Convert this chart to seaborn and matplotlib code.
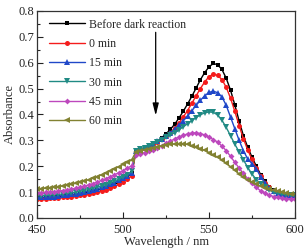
import numpy as np
import pandas as pd
import matplotlib
matplotlib.use("Agg")
import matplotlib.pyplot as plt
import seaborn as sns

# wavelength grid of the spectrometer, 2.5 nm step
wavelength = np.arange(450, 600.1, 2.5)

before = [0.078, 0.078, 0.079, 0.080, 0.081, 0.082, 0.084, 0.086, 0.088, 0.090,
          0.093, 0.096, 0.099, 0.103, 0.107, 0.112, 0.117, 0.123, 0.130, 0.138,
          0.147, 0.158, 0.172,
          0.258, 0.265, 0.272, 0.280, 0.288, 0.298, 0.310, 0.325, 0.342, 0.362,
          0.386, 0.412, 0.440, 0.470, 0.502, 0.534, 0.562, 0.584, 0.597, 0.592,
          0.574, 0.540, 0.494, 0.437, 0.375, 0.318, 0.273, 0.235, 0.200, 0.168,
          0.141, 0.121, 0.107, 0.098, 0.093, 0.090, 0.088, 0.087]
min0 = [0.074, 0.074, 0.075, 0.076, 0.077, 0.078, 0.080, 0.081, 0.083, 0.085,
        0.087, 0.090, 0.093, 0.096, 0.100, 0.104, 0.109, 0.115, 0.122, 0.130,
        0.139, 0.150, 0.163,
        0.255, 0.262, 0.269, 0.276, 0.284, 0.293, 0.304, 0.316, 0.330, 0.347,
        0.367, 0.390, 0.415, 0.443, 0.472, 0.500, 0.526, 0.546, 0.556, 0.551,
        0.535, 0.505, 0.463, 0.412, 0.357, 0.306, 0.263, 0.226, 0.193, 0.163,
        0.137, 0.118, 0.105, 0.097, 0.092, 0.089, 0.087, 0.086]
min15 = [0.080, 0.080, 0.081, 0.082, 0.083, 0.085, 0.087, 0.089, 0.091, 0.094,
         0.097, 0.100, 0.104, 0.108, 0.113, 0.118, 0.124, 0.130, 0.137, 0.145,
         0.153, 0.163, 0.175,
         0.257, 0.264, 0.271, 0.279, 0.287, 0.296, 0.306, 0.317, 0.329, 0.343,
         0.358, 0.375, 0.394, 0.414, 0.435, 0.455, 0.472, 0.485, 0.490, 0.484,
         0.468, 0.435, 0.390, 0.345, 0.300, 0.260, 0.228, 0.210, 0.190, 0.160,
         0.135, 0.117, 0.105, 0.097, 0.092, 0.090, 0.089, 0.088]
min30 = [0.086, 0.086, 0.087, 0.088, 0.089, 0.091, 0.093, 0.095, 0.097, 0.100,
         0.103, 0.106, 0.110, 0.114, 0.119, 0.124, 0.129, 0.135, 0.142, 0.150,
         0.158, 0.168, 0.180,
         0.258, 0.265, 0.272, 0.279, 0.286, 0.294, 0.302, 0.311, 0.320, 0.330,
         0.341, 0.352, 0.364, 0.376, 0.388, 0.399, 0.406, 0.410, 0.408, 0.398,
         0.378, 0.350, 0.318, 0.285, 0.255, 0.225, 0.195, 0.170, 0.148, 0.132,
         0.118, 0.108, 0.100, 0.095, 0.092, 0.090, 0.089, 0.088]
min45 = [0.097, 0.098, 0.099, 0.100, 0.102, 0.104, 0.106, 0.109, 0.112, 0.115,
         0.119, 0.123, 0.128, 0.133, 0.139, 0.145, 0.152, 0.159, 0.167, 0.175,
         0.183, 0.192, 0.202,
         0.245, 0.248, 0.253, 0.258, 0.264, 0.271, 0.279, 0.288, 0.297, 0.305,
         0.313, 0.319, 0.325, 0.328, 0.329, 0.326, 0.321, 0.313, 0.303, 0.293,
         0.278, 0.260, 0.238, 0.215, 0.193, 0.172, 0.152, 0.134, 0.118, 0.105,
         0.095, 0.088, 0.083, 0.080, 0.077, 0.075, 0.074, 0.073]
min60 = [0.112, 0.113, 0.115, 0.117, 0.119, 0.121, 0.124, 0.127, 0.130, 0.134,
         0.138, 0.143, 0.148, 0.154, 0.160, 0.167, 0.174, 0.182, 0.190, 0.198,
         0.207, 0.215, 0.224,
         0.256, 0.259, 0.262, 0.266, 0.270, 0.274, 0.278, 0.281, 0.284, 0.286,
         0.287, 0.286, 0.284, 0.280, 0.275, 0.268, 0.261, 0.253, 0.244, 0.235,
         0.224, 0.211, 0.198, 0.184, 0.170, 0.158, 0.147, 0.138, 0.130, 0.123,
         0.117, 0.112, 0.107, 0.103, 0.099, 0.096, 0.094, 0.092]

labels = ["Before dark reaction", "0 min", "15 min", "30 min", "45 min", "60 min"]
series = [before, min0, min15, min30, min45, min60]
colors = ["#000000", "#f41c1c", "#2048c8", "#208a84", "#bd48bd", "#828232"]
markers = ["s", "o", "^", "v", "D", "<"]
msizes = [3.2, 3.6, 3.8, 3.8, 3.0, 3.8]

sns.set_theme(style="ticks")
plt.rcParams["font.family"] = ["Liberation Serif", "DejaVu Serif"]

fig = plt.figure(figsize=(3.07, 2.48), dpi=100)
ax = fig.add_axes([0.1205, 0.121, 0.8405, 0.835])

for lab, vals, col, mk, ms in zip(labels, series, colors, markers, msizes):
    df = pd.DataFrame({"wl": wavelength, "A": vals})
    sns.lineplot(data=df, x="wl", y="A", ax=ax, color=col, marker=mk,
                 markersize=ms, markeredgewidth=0, linewidth=1.0, label=lab)

ax.annotate("", xy=(519, 0.385), xytext=(519, 0.728),
            arrowprops=dict(arrowstyle="-|>,head_length=0.6,head_width=0.15",
                            color="black", lw=0.9))

ax.set_xlim(450, 600)
ax.set_ylim(0, 0.8)
ax.set_xticks([450, 500, 550, 600])
ax.set_xticks([475, 525, 575], minor=True)
ax.set_yticks(np.arange(0, 0.81, 0.1))
ax.set_yticks(np.arange(0.05, 0.8, 0.1), minor=True)
ax.set_yticklabels([f"{v:.1f}" for v in np.arange(0, 0.81, 0.1)])
ax.tick_params(which="major", direction="in", length=4, width=0.8,
               labelsize=9, colors="#222222", pad=2)
ax.tick_params(axis="x", which="major", pad=4)
ax.tick_params(which="minor", direction="in", length=2.5, width=0.8)
for sp in ax.spines.values():
    sp.set_linewidth(0.9)
    sp.set_color("#333333")

ax.set_xlabel("Wavelength / nm", fontsize=9, labelpad=0)
ax.set_ylabel("Absorbance", fontsize=9, labelpad=2)

ax.legend(loc="upper left", frameon=False, fontsize=8.5, handlelength=3.05,
          handletextpad=0.35, labelspacing=0.62, borderaxespad=0.6,
          bbox_to_anchor=(0.0, 1.02))

fig.savefig("out.png", dpi=100)
